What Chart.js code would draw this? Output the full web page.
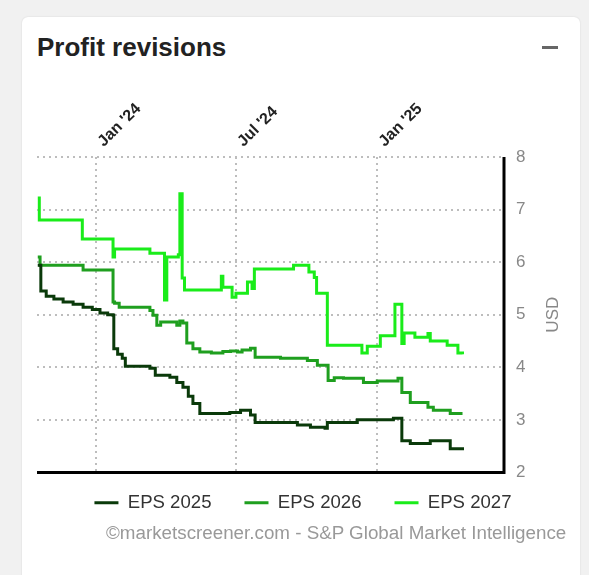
<!DOCTYPE html>
<html>
<head>
<meta charset="utf-8">
<title>Profit revisions</title>
<script src="https://cdn.jsdelivr.net/npm/chart.js@4.4.1/dist/chart.umd.min.js"></script>
<style>
  body { margin: 0; background: #f1f1f1; font-family: "Liberation Sans", Arial, sans-serif; }
  .card { position: absolute; left: 22px; top: 17px; width: 558px; height: 580px; background: #fff; border-radius: 6px; box-shadow: 0 0 2px rgba(0,0,0,0.12); }
  h2 { position: absolute; left: 37px; top: 35px; margin: 0; font-size: 26px; line-height: 25px; font-weight: bold; color: #222; }
  .minus { position: absolute; left: 542px; top: 46px; width: 16px; height: 3px; background: #666; }
  .credit { position: absolute; left: 106px; top: 522px; font-size: 18.8px; line-height: 22px; color: #999; white-space: nowrap; }
  #wrap { position: absolute; left: 0; top: 0; width: 589px; height: 575px; }
</style>
</head>
<body>
<div class="card"></div>
<h2>Profit revisions</h2>
<div class="minus"></div>
<div id="wrap"><canvas id="profitrevisions"></canvas></div>
<div class="credit">©marketscreener.com - S&amp;P Global Market Intelligence</div>
<script>
// x values are days counted from 1 Jan 2024
const tickDays = [0, 182, 366];
const tickLabels = ["Jan '24", "Jul '24", "Jan '25"];

const eps2025Days = [-76, -72, -65, -55, -43, -30, -17, -5, 5, 15, 22, 23, 28, 34, 38, 70, 77, 96, 105, 113, 120, 126, 135, 174, 188, 201, 207, 262, 279, 298, 301, 340, 387, 398, 409, 435, 461, 477];
const eps2025Values = [5.94, 5.45, 5.35, 5.3, 5.24, 5.2, 5.14, 5.1, 5.03, 5.0, 4.99, 4.35, 4.25, 4.17, 4.02, 3.98, 3.85, 3.81, 3.71, 3.62, 3.45, 3.31, 3.12, 3.14, 3.18, 3.09, 2.95, 2.9, 2.86, 2.84, 2.95, 3.0, 3.03, 2.6, 2.55, 2.6, 2.45, 2.42];

const eps2026Days = [-76, -73, -17, 22, 24, 30, 70, 74, 79, 84, 96, 105, 109, 113, 118, 126, 135, 150, 165, 175, 184, 190, 201, 207, 240, 275, 288, 302, 310, 322, 348, 366, 393, 398, 409, 432, 439, 461, 477];
const eps2026Values = [6.1, 5.94, 5.85, 5.24, 5.22, 5.14, 5.08, 4.99, 4.8, 4.86, 4.86, 4.8, 4.88, 4.84, 4.46, 4.35, 4.29, 4.27, 4.3, 4.31, 4.29, 4.33, 4.36, 4.19, 4.17, 4.13, 4.04, 3.75, 3.8, 3.79, 3.71, 3.74, 3.79, 3.52, 3.33, 3.24, 3.18, 3.12, 3.12];

const eps2027Days = [-76, -74, -18, 22, 24, 70, 89, 92, 107, 109, 112, 115, 163, 165, 177, 182, 197, 203, 206, 257, 277, 284, 287, 301, 346, 353, 370, 389, 398, 401, 415, 432, 435, 457, 471, 477];
const eps2027Values = [7.22, 6.8, 6.44, 6.1, 6.25, 6.17, 5.28, 6.1, 6.14, 7.3, 5.7, 5.47, 5.73, 5.52, 5.33, 5.41, 5.62, 5.5, 5.87, 5.94, 5.81, 5.71, 5.41, 4.42, 4.27, 4.4, 4.6, 5.2, 4.45, 4.65, 4.57, 4.64, 4.5, 4.42, 4.27, 4.25];

const toPoints = (days, values) => days.map((d, i) => ({ x: d, y: values[i] }));

Chart.defaults.font.family = '"Liberation Sans", Arial, sans-serif';

// right + bottom solid frame, rotated unit label
const frame = {
  id: 'frame',
  afterLayout(chart) {
    const lg = chart.legend;
    lg.top -= 12; lg.bottom -= 12;
    lg.left -= 10; lg.right -= 10;
  },
  afterDraw(chart) {
    const { ctx, chartArea: a } = chart;
    ctx.save();
    ctx.strokeStyle = '#000';
    ctx.lineWidth = 3;
    ctx.beginPath();
    ctx.moveTo(a.left, a.bottom);
    ctx.lineTo(a.right, a.bottom);
    ctx.lineTo(a.right, a.top);
    ctx.stroke();
    ctx.translate(a.right + 49, (a.top + a.bottom) / 2);
    ctx.rotate(-Math.PI / 2);
    ctx.fillStyle = '#888';
    ctx.font = '17px "Liberation Sans", Arial, sans-serif';
    ctx.textAlign = 'center';
    ctx.textBaseline = 'middle';
    ctx.fillText('USD', 0, 0);
    ctx.restore();
  }
};

new Chart(document.getElementById('profitrevisions'), {
  type: 'line',
  data: {
    datasets: [{
      label: 'EPS 2025',
      data: toPoints(eps2025Days, eps2025Values),
      borderColor: '#0a3a0a',
      backgroundColor: '#0a3a0a'
    }, {
      label: 'EPS 2026',
      data: toPoints(eps2026Days, eps2026Values),
      borderColor: '#1f9f1f',
      backgroundColor: '#1f9f1f'
    }, {
      label: 'EPS 2027',
      data: toPoints(eps2027Days, eps2027Values),
      borderColor: '#1aec1a',
      backgroundColor: '#1aec1a'
    }]
  },
  options: {
    responsive: true,
    maintainAspectRatio: false,
    animation: false,
    layout: { padding: { left: 37, top: 90, right: 0, bottom: 41 } },
    elements: {
      line: { borderWidth: 3, stepped: true, tension: 0 },
      point: { radius: 0 }
    },
    scales: {
      x: {
        type: 'linear',
        position: 'top',
        min: -77,
        max: 531,
        afterBuildTicks: s => { s.ticks = tickDays.map(v => ({ value: v })); },
        afterFit: s => { s.height = 67; },
        ticks: {
          autoSkip: false,
          minRotation: 45,
          maxRotation: 45,
          padding: 6,
          labelOffset: 18,
          color: '#222',
          font: { size: 16, weight: 'bold' },
          callback: (v, i) => tickLabels[i]
        },
        grid: { color: '#bdbdbd', lineWidth: 2, drawTicks: false },
        border: { display: false, dash: [2, 4] }
      },
      y: {
        position: 'right',
        min: 2,
        max: 8,
        afterFit: s => { s.width = 85; },
        ticks: { stepSize: 1, padding: 12, color: '#888', font: { size: 17 } },
        grid: { color: '#bdbdbd', lineWidth: 2, drawTicks: false },
        border: { display: false, dash: [2, 4] }
      }
    },
    plugins: {
      tooltip: { enabled: false },
      legend: {
        position: 'bottom',
        labels: {
          boxWidth: 24,
          boxHeight: 3,
          padding: 33,
          color: '#333',
          font: { size: 18.6 },
          generateLabels: chart => Chart.defaults.plugins.legend.labels.generateLabels(chart)
            .map(l => Object.assign(l, { lineWidth: 0 }))
        }
      }
    }
  },
  plugins: [frame]
});
</script>
</body>
</html>
